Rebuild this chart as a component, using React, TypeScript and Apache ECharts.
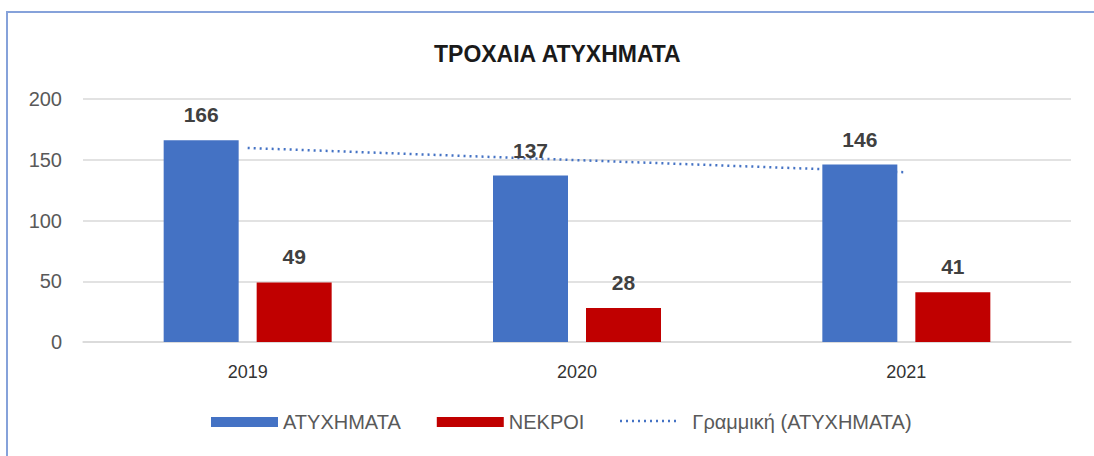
import React, { useEffect, useRef } from "react";
import * as echarts from "echarts";

const categories = ["2019", "2020", "2021"];
const accidents = [166, 137, 146];
const deaths = [49, 28, 41];
const trend = [159.7, 149.7, 139.7];
const yTicks = { min: 0, max: 200, interval: 50 };

const FONT = "'Liberation Sans', Arial, sans-serif";

export default function App() {
  const ref = useRef<HTMLDivElement>(null);
  useEffect(() => {
    if (!ref.current) return;
    const chart = echarts.init(ref.current, undefined, { renderer: "svg" });
    chart.setOption({
      animation: false,
      backgroundColor: "#ffffff",
      textStyle: { fontFamily: FONT },
      title: {
        text: "ΤΡΟΧΑΙΑ ΑΤΥΧΗΜΑΤΑ",
        left: 429,
        top: 37,
        textStyle: { fontFamily: FONT, fontSize: 23, fontWeight: "bold", color: "#1a1a1a" },
      },
      graphic: [
        {
          type: "rect",
          shape: { x: 7, y: 12, width: 1200, height: 600 },
          style: { fill: "none", stroke: "#86A2DA", lineWidth: 2 },
          silent: true,
          z: 0,
        },
        {
          type: "line",
          shape: { x1: 620, y1: 421, x2: 676, y2: 421 },
          style: { stroke: "#4472C4", lineWidth: 2.5, lineDash: [2, 4] },
          silent: true,
          z: 10,
        },
      ],
      legend: {
        left: 206,
        top: 407,
        itemWidth: 67,
        itemHeight: 10,
        itemGap: 36,
        textStyle: { fontFamily: FONT, fontSize: 20, color: "#595959" },
        data: [
          { name: "ΑΤΥΧΗΜΑΤΑ", icon: "rect" },
          { name: "ΝΕΚΡΟΙ", icon: "rect" },
          { name: "Γραμμική (ΑΤΥΧΗΜΑΤΑ)", icon: "none" },
        ],
      },
      grid: { left: 83, right: 23, top: 99, bottom: 114, containLabel: false },
      xAxis: {
        type: "category",
        data: categories,
        axisLine: { show: true, lineStyle: { color: "#D9D9D9", width: 1.5 } },
        axisTick: { show: false },
        axisLabel: { fontFamily: FONT, fontSize: 18, color: "#333333", margin: 21 },
      },
      yAxis: {
        type: "value",
        min: yTicks.min,
        max: yTicks.max,
        interval: yTicks.interval,
        axisLine: { show: false },
        axisTick: { show: false },
        splitLine: { lineStyle: { color: "#D9D9D9", width: 1.5 } },
        axisLabel: { fontFamily: FONT, fontSize: 20, color: "#595959", margin: 21 },
      },
      series: [
        {
          name: "ΑΤΥΧΗΜΑΤΑ",
          type: "bar",
          data: accidents,
          barWidth: 75,
          barGap: "24%",
          itemStyle: { color: "#4472C4" },
          z: 3,
          label: {
            show: true,
            position: "top",
            distance: 15,
            fontFamily: FONT,
            fontSize: 21,
            fontWeight: "bold",
            color: "#404040",
          },
        },
        {
          name: "ΝΕΚΡΟΙ",
          type: "bar",
          data: deaths,
          barWidth: 75,
          barGap: "24%",
          itemStyle: { color: "#C00000" },
          z: 3,
          label: {
            show: true,
            position: "top",
            distance: 15,
            fontFamily: FONT,
            fontSize: 21,
            fontWeight: "bold",
            color: "#404040",
          },
        },
        {
          name: "Γραμμική (ΑΤΥΧΗΜΑΤΑ)",
          type: "line",
          data: trend,
          symbol: "none",
          z: 2,
          itemStyle: { color: "#4472C4" },
          lineStyle: { color: "#4472C4", width: 2.5, type: [2, 4] },
        },
      ],
    });
    return () => chart.dispose();
  }, []);
  return (
    <div
      ref={ref}
      style={{ position: "absolute", left: 0, top: 0, width: 1094, height: 456 }}
    />
  );
}
